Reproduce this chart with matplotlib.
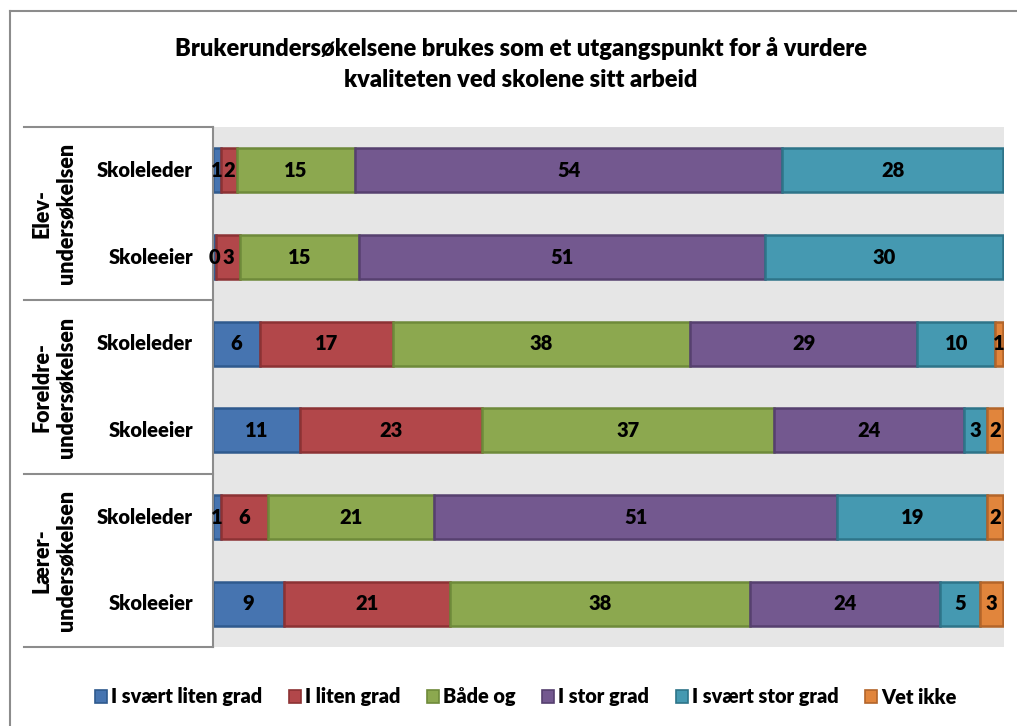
import matplotlib
matplotlib.use("Agg")
import matplotlib.pyplot as plt
import numpy as np
from matplotlib.patches import Patch
from matplotlib.lines import Line2D
import matplotlib.transforms as mtransforms

FONT = ["Lato", "DejaVu Sans"]
plt.rcParams['font.family'] = FONT
W = "heavy"

title = "Brukerundersøkelsene brukes som et utgangspunkt for å vurdere\nkvaliteten ved skolene sitt arbeid"
groups = ["Elev-\nundersøkelsen", "Foreldre-\nundersøkelsen", "Lærer-\nundersøkelsen"]
categories = ["Skoleleder", "Skoleeier", "Skoleleder", "Skoleeier", "Skoleleder", "Skoleeier"]
series = ["I svært liten grad", "I liten grad", "Både og", "I stor grad", "I svært stor grad", "Vet ikke"]

svaert_liten = [1, 0.4, 6, 11, 1, 9]
liten = [2, 3, 17, 23, 6, 21]
baade_og = [15, 15, 38, 37, 21, 38]
stor = [54, 51, 29, 24, 51, 24]
svaert_stor = [28, 30, 10, 3, 19, 5]
vet_ikke = [np.nan, np.nan, 1, 2, 2, 3]

values = [svaert_liten, liten, baade_og, stor, svaert_stor, vet_ikke]
colors = ["#4674B0", "#B2474A", "#8CA84F", "#73588F", "#4599B1", "#E1853C"]
edges = ["#2F5A8E", "#8C3234", "#6E8A3A", "#56406F", "#2E7489", "#B3652A"]

# 100 % stacked: share of each row total
arr = np.array(values, dtype=float)
totals = np.nansum(arr, axis=0)
shares = np.nan_to_num(arr) / totals * 100

fig = plt.figure(figsize=(10.17, 7.26), dpi=100)
ax = fig.add_axes([213/1017, 1-647/726, 791/1017, 520/726])
ax.set_facecolor("#E6E6E6")

y = np.arange(len(categories))
left = np.zeros(len(categories))
for k, (c, ec, name) in enumerate(zip(colors, edges, series)):
    w = shares[k]
    m = arr[k]
    keep = ~np.isnan(m)
    ax.barh(y[keep], w[keep], left=left[keep], height=0.51, color=c, edgecolor=ec,
            linewidth=1.8, label=name)
    for i in np.where(keep)[0]:
        ax.text(left[i] + w[i]/2, y[i], f"{m[i]:.0f}", ha="center", va="center",
                fontsize=14.5, fontweight=W, color="black")
    left += w

ax.set_xlim(0, 100.1)
ax.set_ylim(5.5, -0.5)
ax.set_xticks([])
ax.set_yticks([])
for s in ["top", "right", "bottom"]:
    ax.spines[s].set_visible(False)
ax.spines["left"].set_color("#8C8C8C")
ax.spines["left"].set_linewidth(1.5)

trans = mtransforms.blended_transform_factory(ax.transAxes, ax.transData)
for i, cat in enumerate(categories):
    ax.text((193-213)/791, y[i], cat, transform=trans, ha="right", va="center",
            fontsize=14.5, fontweight=W)
for b in [-0.5, 1.5, 3.5, 5.5]:
    ax.add_line(Line2D([(24-213)/791, 0], [b, b], transform=trans, color="#8C8C8C",
                       linewidth=1.5, clip_on=False))
for g, name in enumerate(groups):
    ax.text((54-213)/791, 2*g + 0.5, name, transform=trans, ha="center", va="center",
            rotation=90, fontsize=15.5, fontweight=W, linespacing=1.15)

# outer border (left and top edges visible)
fig.add_artist(Line2D([10/1017, 10/1017], [0, 1-11/726], transform=fig.transFigure,
                      color="#8C8C8C", linewidth=1.5))
fig.add_artist(Line2D([10/1017, 1], [1-11/726, 1-11/726], transform=fig.transFigure,
                      color="#8C8C8C", linewidth=1.5))

fig.text(0.512, 1-64/726, title, ha="center", va="center", fontsize=17,
         fontweight=W, linespacing=1.45)

handles = [Patch(facecolor=c, edgecolor=ec, linewidth=1.2) for c, ec in zip(colors, edges)]
fig.legend(handles, series, loc="center", bbox_to_anchor=(0.517, 1-697/726), ncol=6,
           frameon=False, prop={"weight": W, "size": 14.3},
           handlelength=0.6, handleheight=0.6, handletextpad=0.2, columnspacing=1.35)

fig.savefig("out.png", dpi=100)
